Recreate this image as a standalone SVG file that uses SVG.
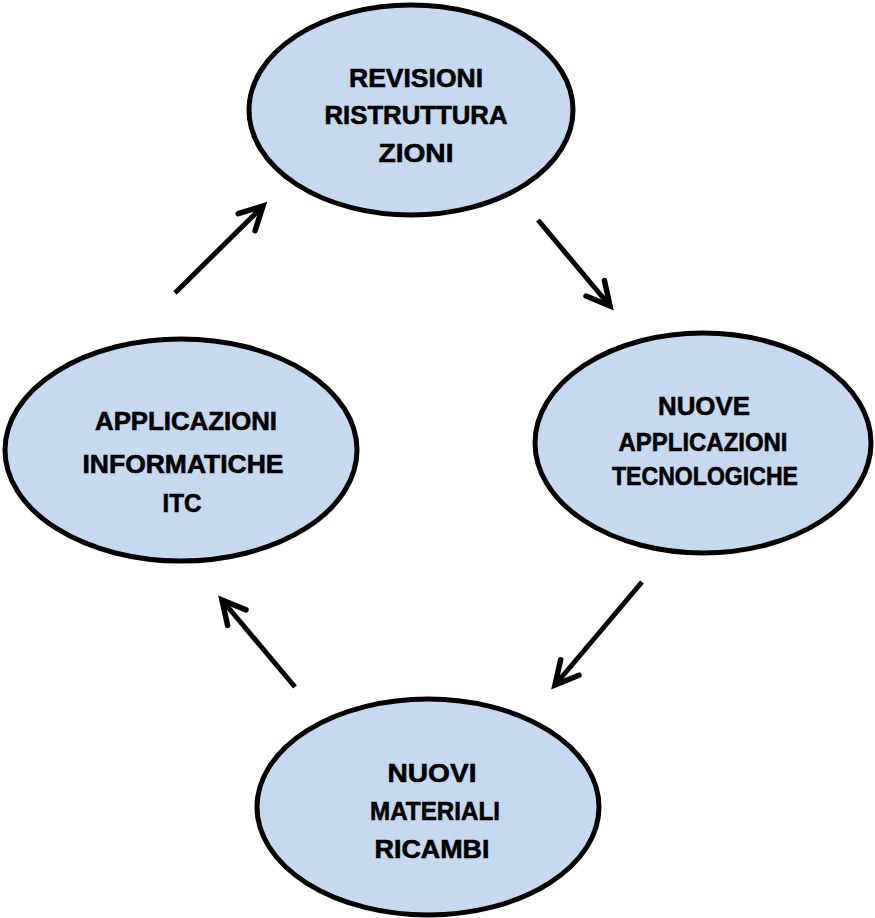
<svg xmlns="http://www.w3.org/2000/svg" width="875" height="918" viewBox="0 0 875 918">
<defs>
<style>
.node ellipse{fill:#C6D9F1;stroke:#000;stroke-width:5}
.node text{font-family:"Liberation Sans",Arial,sans-serif;font-weight:bold;font-size:26px;fill:#000;stroke:#000;stroke-width:0.6;text-anchor:middle}
.conn line{stroke:#000;stroke-width:5;marker-end:url(#ah)}
</style>
<marker id="ah" markerUnits="userSpaceOnUse" markerWidth="40" markerHeight="40" viewBox="-30 -20 40 40" refX="0" refY="0" orient="auto" overflow="visible">
<path d="M-23,-12 L0,0 L-23,12" fill="none" stroke="#000" stroke-width="5.5" stroke-linecap="round" stroke-linejoin="miter"/>
</marker>
</defs>
<rect width="875" height="918" fill="#fff"/>
<g id="n-revisioni" class="node">
<ellipse cx="411" cy="110" rx="162" ry="105"/>
<text x="416" y="87" textLength="134" lengthAdjust="spacingAndGlyphs">REVISIONI</text>
<text x="416" y="124" textLength="183" lengthAdjust="spacingAndGlyphs">RISTRUTTURA</text>
<text x="416" y="162" textLength="75" lengthAdjust="spacingAndGlyphs">ZIONI</text>
</g>
<g id="n-nuove-applicazioni" class="node">
<ellipse cx="703" cy="443" rx="168" ry="110"/>
<text x="704" y="415" textLength="92" lengthAdjust="spacingAndGlyphs">NUOVE</text>
<text x="703" y="451" textLength="169" lengthAdjust="spacingAndGlyphs">APPLICAZIONI</text>
<text x="705" y="485" textLength="186" lengthAdjust="spacingAndGlyphs">TECNOLOGICHE</text>
</g>
<g id="n-nuovi-materiali" class="node">
<ellipse cx="428" cy="807" rx="171" ry="108"/>
<text x="432" y="782" textLength="89" lengthAdjust="spacingAndGlyphs">NUOVI</text>
<text x="435" y="820" textLength="130" lengthAdjust="spacingAndGlyphs">MATERIALI</text>
<text x="432" y="858" textLength="115" lengthAdjust="spacingAndGlyphs">RICAMBI</text>
</g>
<g id="n-applicazioni-informatiche" class="node">
<ellipse cx="181" cy="450" rx="176" ry="111"/>
<text x="186" y="430" textLength="182" lengthAdjust="spacingAndGlyphs">APPLICAZIONI</text>
<text x="183" y="473" textLength="201" lengthAdjust="spacingAndGlyphs">INFORMATICHE</text>
<text x="182" y="512" textLength="39" lengthAdjust="spacingAndGlyphs">ITC</text>
</g>
<g id="connectors" class="conn">
<line x1="175" y1="293" x2="263" y2="206"/>
<line x1="538" y1="220" x2="610" y2="306"/>
<line x1="642" y1="582" x2="555" y2="685"/>
<line x1="295" y1="687" x2="222" y2="600"/>
</g>
</svg>
